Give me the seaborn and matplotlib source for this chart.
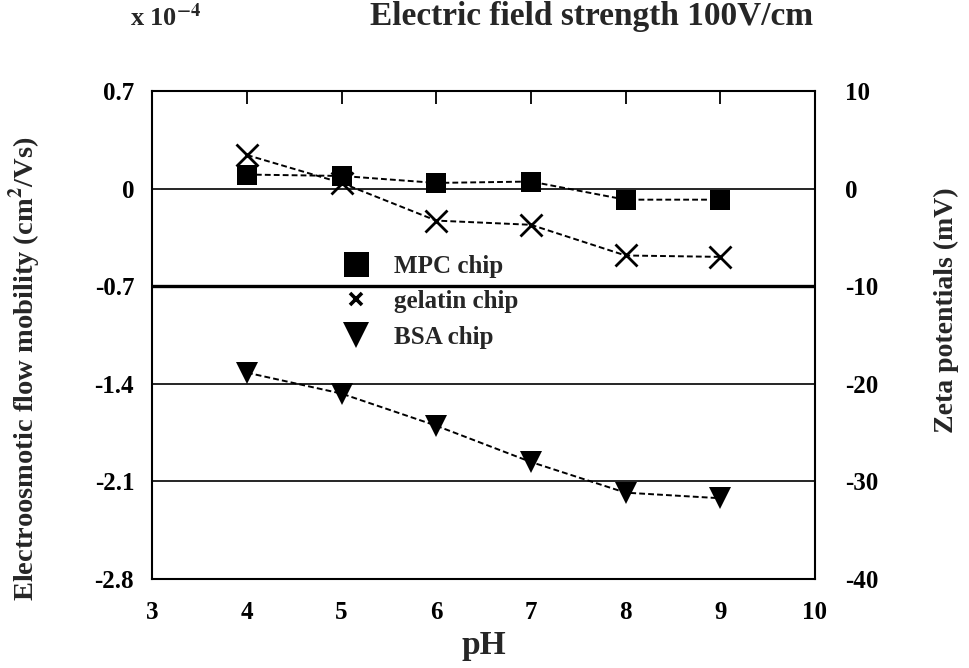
import matplotlib
matplotlib.use("Agg")
import matplotlib.pyplot as plt
import matplotlib.lines as mlines
import seaborn as sns
import pandas as pd

ph = [4, 5, 6, 7, 8, 9]
mpc = [0.10, 0.09, 0.04, 0.05, -0.08, -0.08]
gelatin = [0.24, 0.04, -0.23, -0.26, -0.48, -0.49]
bsa = [-1.32, -1.47, -1.70, -1.96, -2.18, -2.22]

series_names = ["MPC chip", "gelatin chip", "BSA chip"]
left_ticks = [0.7, 0, -0.7, -1.4, -2.1, -2.8]
left_ticklabels = ["0.7", "0", "-0.7", "-1.4", "-2.1", "-2.8"]
right_ticks = [10, 0, -10, -20, -30, -40]
x_ticks = [3, 4, 5, 6, 7, 8, 9, 10]

sns.set_style("white")
plt.rcParams["font.family"] = ["Liberation Serif", "DejaVu Serif"]
plt.rcParams["mathtext.fontset"] = "stix"
plt.rcParams["font.weight"] = "bold"

fig = plt.figure(figsize=(9.7, 6.68), dpi=100)
ax = fig.add_axes([0.157, 0.133, 0.683, 0.731])

df = pd.DataFrame({"pH": ph * 3,
                   "val": mpc + gelatin + bsa,
                   "chip": sum([[n] * len(ph) for n in series_names], [])})

dash = (0, (3, 1.6))
styles = {"MPC chip": dict(marker="s", markersize=15, mew=0),
          "gelatin chip": dict(marker="x", markersize=16, mew=2.0),
          "BSA chip": dict(marker="v", markersize=16, mew=0)}
for name in series_names:
    sub = df[df["chip"] == name]
    sns.lineplot(data=sub, x="pH", y="val", ax=ax, color="black",
                 linestyle=dash, linewidth=1.4, estimator=None,
                 mfc="black", mec="black", **styles[name])

ax.set_xlim(3, 10)
ax.set_ylim(-2.8, 0.7)
ax.set_xticks(x_ticks)
ax.set_xticklabels([str(t) for t in x_ticks])
ax.set_yticks(left_ticks)
ax.set_yticklabels(left_ticklabels)
for yv in [0, -1.4, -2.1]:
    ax.axhline(yv, color="black", linewidth=1.2, zorder=1)
ax.axhline(-0.7, color="black", linewidth=2.4, zorder=1)

for s in ax.spines.values():
    s.set_color("black")
    s.set_linewidth(1.5)
ax.tick_params(axis="x", direction="in", length=9, width=1.3, top=True,
               labelsize=18, pad=16, colors="black")
ax.tick_params(axis="y", length=0, labelsize=18, pad=13, colors="black")

ax.set_xlabel("pH", fontsize=24, fontweight="bold", labelpad=4)
ax.set_ylabel("Electroosmotic flow mobility (cm$^2$/Vs)", fontsize=20.5,
              fontweight="bold")
ax.yaxis.set_label_coords(-0.165, 0.43)

ax2 = ax.twinx()
ax2.set_ylim(-40, 10)
ax2.set_yticks(right_ticks)
ax2.set_yticklabels([str(t) for t in right_ticks])
ax2.tick_params(axis="y", length=0, labelsize=18, pad=22, colors="black")
ax2.set_ylabel("Zeta potentials (mV)", fontsize=20, fontweight="bold")
ax2.yaxis.set_label_coords(1.18, 0.55)
for s in ax2.spines.values():
    s.set_visible(False)

handles = [mlines.Line2D([], [], color="black", linestyle="none", marker="s",
                         markersize=18, mew=0),
           mlines.Line2D([], [], color="black", linestyle="none", marker="x",
                         markersize=9, mew=2.6),
           mlines.Line2D([], [], color="black", linestyle="none", marker="v",
                         markersize=19, mew=0)]
ax.legend(handles, series_names, loc="upper left",
          bbox_to_anchor=(0.255, 0.685), frameon=False, fontsize=18,
          handletextpad=0.5, labelspacing=0.5, borderaxespad=0)

fig.text(0.134, 0.975, "x 10$^{-4}$", fontsize=19, fontweight="bold",
         ha="left", va="center")
fig.text(0.61, 0.975, "Electric field strength 100V/cm", fontsize=24,
         fontweight="bold", ha="center", va="center")

fig.savefig("out.png", dpi=100)
